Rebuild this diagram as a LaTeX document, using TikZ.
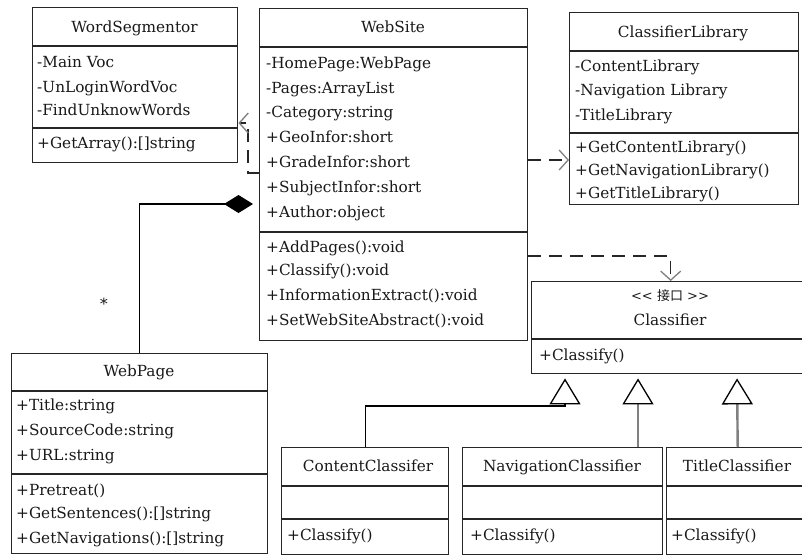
\documentclass[tikz,border=0pt]{standalone}
\usepackage{fontspec}
\setmainfont{DejaVu Serif}
\newfontfamily\cjk{Noto Sans CJK SC}
\usetikzlibrary{arrows.meta}
\begin{document}
\begin{tikzpicture}[x=1pt,y=-1pt,
  cls/.style={draw=black!85, line width=1.4pt, fill=white, anchor=north west, inner sep=0pt, rectangle},
  div/.style={draw=black!85, line width=1.4pt},
  txt/.style={anchor=base west, inner sep=0pt, font=\fontsize{15.3}{18}\selectfont, text=black!90},
  ttl/.style={anchor=base, inner sep=0pt, font=\fontsize{15.3}{18}\selectfont, text=black!90},
  dep/.style={draw=black!85, line width=1.3pt, dash pattern=on 13pt off 8pt, -{Straight Barb[length=9pt,width=20pt,color=gray,line width=1.3pt]}},
  gen/.style={line width=1.4pt, -{Triangle[open,length=26pt,width=31pt,color=black,line width=1.3pt]}},
  comp/.style={draw=black, line width=1.4pt, -{Diamond[length=29pt,width=18pt,color=black]}}
]
\clip (0,0) rectangle (802,555);
\fill[white] (0,0) rectangle (802,555);

% WordSegmentor
\node[cls, minimum width=205pt, minimum height=155pt] (wseg) at (32,7) {};
\draw[div] (wseg.west |- 0,46) -- (wseg.east |- 0,46);
\draw[div] (wseg.west |- 0,128) -- (wseg.east |- 0,128);
\node[ttl] (wsegT) at (134.5,32) {WordSegmentor};
\node[txt] (wsegA) at (37,67) {-Main Voc};
\node[txt] (wsegB) at (37,92) {-UnLoginWordVoc};
\node[txt] (wsegC) at (37,115) {-FindUnknowWords};
\node[txt] (wsegD) at (37,148) {+GetArray():[]string};

% WebSite
\node[cls, minimum width=268pt, minimum height=332pt] (ws) at (259,8) {};
\draw[div] (ws.west |- 0,47) -- (ws.east |- 0,47);
\draw[div] (ws.west |- 0,232) -- (ws.east |- 0,232);
\node[ttl] (wsT) at (393,32) {WebSite};
\node[txt] (wsA) at (266,68) {-HomePage:WebPage};
\node[txt] (wsB) at (266,93) {-Pages:ArrayList};
\node[txt] (wsC) at (266,117) {-Category:string};
\node[txt] (wsD) at (266,142) {+GeoInfor:short};
\node[txt] (wsE) at (266,167) {+GradeInfor:short};
\node[txt] (wsF) at (266,192) {+SubjectInfor:short};
\node[txt] (wsG) at (266,217) {+Author:object};
\node[txt] (wsH) at (266,252) {+AddPages():void};
\node[txt] (wsI) at (266,275) {+Classify():void};
\node[txt] (wsJ) at (266,300) {+InformationExtract():void};
\node[txt] (wsK) at (266,325) {+SetWebSiteAbstract():void};

% ClassifierLibrary
\node[cls, minimum width=229pt, minimum height=192pt] (cl) at (569,12) {};
\draw[div] (cl.west |- 0,51) -- (cl.east |- 0,51);
\draw[div] (cl.west |- 0,133) -- (cl.east |- 0,133);
\node[ttl] (clT) at (683,37) {ClassifierLibrary};
\node[txt] (clA) at (575,71) {-ContentLibrary};
\node[txt] (clB) at (575,95) {-Navigation Library};
\node[txt] (clC) at (575,120) {-TitleLibrary};
\node[txt] (clD) at (575,152) {+GetContentLibrary()};
\node[txt] (clE) at (575,175) {+GetNavigationLibrary()};
\node[txt] (clF) at (575,198) {+GetTitleLibrary()};

% WebPage
\node[cls, minimum width=256pt, minimum height=200pt] (wp) at (11,353) {};
\draw[div] (wp.west |- 0,391) -- (wp.east |- 0,391);
\draw[div] (wp.west |- 0,474) -- (wp.east |- 0,474);
\node[ttl] (wpT) at (139,376) {WebPage};
\node[txt] (wpA) at (16,410) {+Title:string};
\node[txt] (wpB) at (16,435) {+SourceCode:string};
\node[txt] (wpC) at (16,460) {+URL:string};
\node[txt] (wpD) at (16,495) {+Pretreat()};
\node[txt] (wpE) at (16,518) {+GetSentences():[]string};
\node[txt] (wpF) at (16,543) {+GetNavigations():[]string};

% Classifier interface
\node[cls, minimum width=278pt, minimum height=92pt] (cf) at (531,281) {};
\draw[div] (cf.west |- 0,339) -- (cf.east |- 0,339);
\node[ttl, font=\fontsize{13}{15}\selectfont] (cfS) at (670,300) {<\kern0pt< {\cjk 接口} >\kern0pt>};
\node[ttl] (cfT) at (670,325) {Classifier};
\node[txt] (cfA) at (539,360) {+Classify()};

% ContentClassifer
\node[cls, minimum width=167pt, minimum height=107pt] (cc) at (281,447) {};
\draw[div] (cc.west |- 0,486) -- (cc.east |- 0,486);
\draw[div] (cc.west |- 0,519) -- (cc.east |- 0,519);
\node[ttl] (ccT) at (368,471) {ContentClassifer};
\node[txt] (ccA) at (287,540) {+Classify()};

% NavigationClassifier
\node[cls, minimum width=200pt, minimum height=107pt] (nc) at (462,447) {};
\draw[div] (nc.west |- 0,486) -- (nc.east |- 0,486);
\draw[div] (nc.west |- 0,519) -- (nc.east |- 0,519);
\node[ttl] (ncT) at (562,471) {NavigationClassifier};
\node[txt] (ncA) at (470,540) {+Classify()};

% TitleClassifier
\node[cls, minimum width=142pt, minimum height=107pt] (tc) at (666,447) {};
\draw[div] (tc.west |- 0,486) -- (tc.east |- 0,486);
\draw[div] (tc.west |- 0,519) -- (tc.east |- 0,519);
\node[ttl] (tcT) at (737,471) {TitleClassifier};
\node[txt] (tcA) at (671,540) {+Classify()};

% connectors
\draw[dep] (ws.west |- 0,173) -- (248,173) -- (248,123) -- (wseg.east |- 0,123);
\draw[dep] (ws.east |- 0,160) -- (cl.west |- 0,160);
\draw[dep] (ws.east |- 0,256) -| (cf.north);
\draw[comp, shorten >=6pt] (wp.north) |- (ws.west |- 0,204);
\node[ttl] (star) at (104,309) {*};

\draw[gen, draw=black, shorten >=4pt] (cc.north) |- (565,406) -- (cf.south -| 565,0);
\draw[gen, draw=gray, line width=2.4pt, shorten >=4pt] (nc.north -| 638,0) -- (cf.south -| 638,0);
\draw[gen, draw=gray, line width=2.4pt, shorten >=4pt] (tc.north) -- (cf.south -| 737,0);
\end{tikzpicture}
\end{document}
